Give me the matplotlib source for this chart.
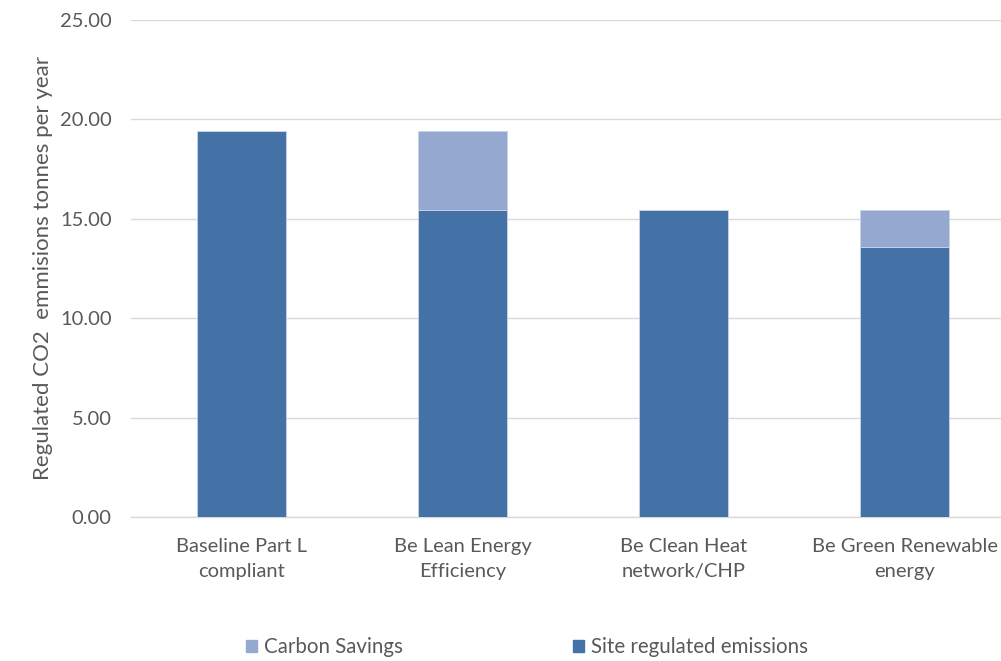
import matplotlib.pyplot as plt
from matplotlib.patches import Patch

# data
categories = ["Baseline Part L\ncompliant", "Be Lean Energy\nEfficiency",
              "Be Clean Heat\nnetwork/CHP", "Be Green Renewable\nenergy"]
site_emissions = [19.40, 15.42, 15.42, 13.58]
carbon_savings = [0.00, 3.98, 0.00, 1.84]

dark_blue = "#4472A7"
light_blue = "#95A9D0"
text_grey = "#595959"
grid_grey = "#D9D9D9"

plt.rcParams["font.family"] = ["Lato", "DejaVu Sans"]
fs = 14.5

fig = plt.figure(figsize=(10.01, 6.61), dpi=100)
ax = fig.add_axes([131 / 1001, 144 / 661, 884 / 1001, 497 / 661])

x = range(len(categories))
ax.bar(x, site_emissions, width=0.4, color=dark_blue, edgecolor="#C8D3E6",
       linewidth=0.6, zorder=3)
ax.bar(x, carbon_savings, width=0.4, bottom=site_emissions, color=light_blue,
       edgecolor="#C8D3E6", linewidth=0.6, zorder=3)

ax.set_xlim(-0.5, 3.5)
ax.set_ylim(0, 25)
ax.set_yticks([0, 5, 10, 15, 20, 25])
ax.set_yticklabels([f"{v:.2f}" for v in [0, 5, 10, 15, 20, 25]])
ax.set_xticks(list(x))
ax.set_xticklabels(categories, linespacing=1.6)

ax.grid(axis="y", color=grid_grey, linewidth=1.0, zorder=0)
for s in ["top", "right", "left"]:
    ax.spines[s].set_visible(False)
ax.spines["bottom"].set_color(grid_grey)
ax.spines["bottom"].set_linewidth(1.0)
ax.tick_params(axis="both", length=0, colors=text_grey, labelsize=fs)
ax.tick_params(axis="y", pad=14)
ax.tick_params(axis="x", pad=15)

ax.set_ylabel("Regulated CO2  emmisions tonnes per year", color=text_grey,
              fontsize=16, labelpad=5)

handles = [Patch(color=light_blue, label="Carbon Savings"),
           Patch(color=dark_blue, label="Site regulated emissions")]
fig.legend(handles=handles, loc="center", bbox_to_anchor=(527 / 1001, 1 - 647 / 661),
           ncol=2, frameon=False, fontsize=fs + 0.3, labelcolor=text_grey,
           handlelength=0.5, handleheight=0.5, handletextpad=0.35, columnspacing=8.3)

fig.savefig("out.png", dpi=100)
